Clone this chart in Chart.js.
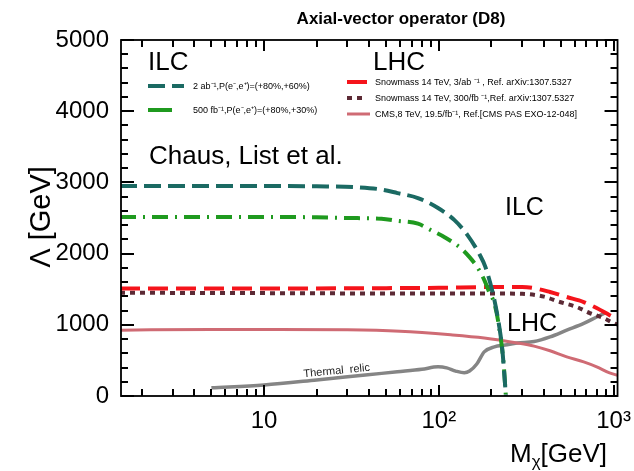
<!DOCTYPE html>
<html>
<head>
<meta charset="utf-8">
<script src="https://cdn.jsdelivr.net/npm/chart.js@4.4.1/dist/chart.umd.min.js"></script>
<style>
  html, body { margin: 0; padding: 0; background: #fff; }
  #wrap { width: 634px; height: 471px; }
</style>
</head>
<body>
<div id="wrap"><canvas id="chart"></canvas></div>
<script>
const FONT = "'Liberation Sans', Arial, Helvetica, sans-serif";

// M_chi [GeV] vs Lambda [GeV]
const ilc2abMass   = [1.5, 3, 6, 10, 20, 35, 47, 58, 76, 99, 123, 146, 171, 185, 208, 222, 231, 238, 242];
const ilc2abLambda = [2950, 2950, 2950, 2950, 2945, 2930, 2900, 2850, 2780, 2640, 2470, 2260, 1990, 1810, 1350, 970, 650, 250, 0];

const ilc500Mass   = [1.5, 5, 10, 20, 30, 47, 58, 76, 90, 108, 133, 150, 167, 182, 195, 208, 222, 235, 242];
const ilc500Lambda = [2515, 2515, 2515, 2510, 2500, 2490, 2460, 2420, 2330, 2230, 2080, 1950, 1800, 1630, 1450, 1300, 950, 450, 0];

const lhc3abMass   = [1.5, 10, 50, 100, 200, 300, 350, 433, 540, 675, 800, 950, 1060];
const lhc3abLambda = [1510, 1510, 1515, 1520, 1530, 1530, 1515, 1460, 1390, 1320, 1235, 1135, 1075];

const lhc300Mass   = [1.5, 10, 50, 100, 200, 300, 400, 493, 616, 731, 877, 1000, 1060];
const lhc300Lambda = [1450, 1445, 1440, 1440, 1440, 1435, 1395, 1320, 1250, 1165, 1095, 1025, 1000];

const cms8Mass     = [1.5, 5, 10, 30, 60, 117, 182, 281, 351, 433, 540, 675, 801, 949, 1060];
const cms8Lambda   = [925, 935, 935, 930, 910, 860, 815, 745, 700, 635, 550, 480, 410, 325, 290];

const relicMass    = [5, 10, 20, 38, 58, 80, 99, 111, 125, 140, 150, 165, 182, 208, 240, 281, 351, 433, 540, 675, 801, 900];
const relicLambda  = [115, 155, 225, 295, 340, 375, 410, 395, 350, 325, 350, 450, 620, 690, 715, 745, 765, 830, 925, 1020, 1110, 1170];

const seriesLabels = [
  '2 ab\u207B\u00B9,P(e\u207B,e\u207A)=(+80%,+60%)',
  '500 fb\u207B\u00B9,P(e\u207B,e\u207A)=(+80%,+30%)',
  'Snowmass 14 TeV, 3/ab \u207B\u00B9 , Ref. arXiv:1307.5327',
  'Snowmass 14 TeV, 300/fb \u207B\u00B9,Ref. arXiv:1307.5327',
  'CMS,8 TeV, 19.5/fb\u207B\u00B9, Ref.[CMS PAS EXO-12-048]',
  'Thermal  relic'
];

const xMin = 1.52, xMax = 1054;
const yMin = 0, yMax = 5000;
const xTickValues = [10, 100, 1000];
const xTickLabels = ['10', '10\u00B2', '10\u00B3'];
const xMinorTicks = [2, 3, 4, 5, 6, 7, 8, 9, 20, 30, 40, 50, 60, 70, 80, 90, 200, 300, 400, 500, 600, 700, 800, 900];

function toPoints(xs, ys) {
  return xs.map((v, i) => ({ x: v, y: ys[i] }));
}

const styles = [
  { color: '#1b6a63', width: 4,   dash: [17, 7] },
  { color: '#1f9a1f', width: 4,   dash: [16, 7, 2, 7] },
  { color: '#f5141b', width: 4,   dash: [20, 8] },
  { color: '#5c2a35', width: 4,   dash: [5, 5] },
  { color: '#cf6b74', width: 3,   dash: [] },
  { color: '#858585', width: 3.5, dash: [] }
];

const seriesData = [
  toPoints(ilc2abMass, ilc2abLambda),
  toPoints(ilc500Mass, ilc500Lambda),
  toPoints(lhc3abMass, lhc3abLambda),
  toPoints(lhc300Mass, lhc300Lambda),
  toPoints(cms8Mass, cms8Lambda),
  toPoints(relicMass, relicLambda)
];

// frame, inward ticks, titles, annotations and legend
const decorations = {
  id: 'decorations',
  afterDraw(chart) {
    const ctx = chart.ctx;
    const a = chart.chartArea;
    const L = a.left, R = a.right, T = a.top, B = a.bottom;
    const lx = Math.log(xMin), lw = Math.log(xMax) - lx;
    const xPix = v => L + (Math.log(v) - lx) / lw * (R - L);
    const yPix = v => B - (v - yMin) / (yMax - yMin) * (B - T);

    ctx.save();
    ctx.setLineDash([]);
    ctx.strokeStyle = '#000';
    ctx.lineWidth = 1.8;
    ctx.strokeRect(L, T, R - L, B - T);

    // inward ticks on all four sides
    ctx.fillStyle = '#000';
    const tick = (v, len) => {
      const px = Math.round(xPix(v));
      ctx.fillRect(px - 1, B - len, 2, len);
      ctx.fillRect(px - 1, T, 2, len);
    };
    xTickValues.forEach(v => tick(v, 11));
    xMinorTicks.forEach(v => tick(v, 7));
    for (let v = yMin; v <= yMax; v += 200) {
      const py = Math.round(yPix(v));
      const len = v % 1000 === 0 ? 13 : 7;
      ctx.fillRect(L, py - 1, len, 2);
      ctx.fillRect(R - len, py - 1, len, 2);
    }

    ctx.textBaseline = 'alphabetic';

    // title
    ctx.font = 'bold 17px ' + FONT;
    ctx.textAlign = 'center';
    ctx.fillText('Axial-vector operator (D8)', 401, 24);

    // y title
    ctx.save();
    ctx.translate(50, 217);
    ctx.rotate(-Math.PI / 2);
    ctx.font = '29px ' + FONT;
    ctx.fillText('\u039B [GeV]', 0, 0);
    ctx.restore();

    // x title
    ctx.textAlign = 'left';
    ctx.font = '26px ' + FONT;
    let tx = 510;
    ctx.fillText('M', tx, 462);
    tx += ctx.measureText('M').width;
    ctx.font = '17px ' + FONT;
    ctx.fillText('\u03C7', tx, 467);
    tx += ctx.measureText('\u03C7').width;
    ctx.font = '26px ' + FONT;
    ctx.fillText('[GeV]', tx, 462);

    // annotations
    ctx.font = '26px ' + FONT;
    ctx.fillText('ILC', 148, 70);
    ctx.fillText('LHC', 373, 70);
    ctx.fillText('Chaus, List et al.', 149, 164);
    ctx.font = '25px ' + FONT;
    ctx.fillText('ILC', 505, 215);
    ctx.fillText('LHC', 507, 331);

    ctx.save();
    ctx.translate(337, 374);
    ctx.rotate(-0.095);
    ctx.font = '11px ' + FONT;
    ctx.fillStyle = '#222';
    ctx.textAlign = 'center';
    ctx.fillText(seriesLabels[5], 0, 0);
    ctx.restore();

    // legend
    const entries = [
      { i: 0, x0: 148, x1: 184, y: 86, tx: 193 },
      { i: 1, x0: 148, x1: 172, y: 110, tx: 193 },
      { i: 2, x0: 347, x1: 370, y: 82, tx: 375 },
      { i: 3, x0: 347, x1: 362, y: 98, tx: 375 },
      { i: 4, x0: 347, x1: 370, y: 114, tx: 375 }
    ];
    ctx.font = '9px ' + FONT;
    ctx.textBaseline = 'middle';
    ctx.textAlign = 'left';
    entries.forEach(e => {
      const s = styles[e.i];
      ctx.strokeStyle = s.color;
      ctx.lineWidth = s.width;
      ctx.setLineDash(e.i === 1 ? [] : s.dash);
      ctx.beginPath();
      ctx.moveTo(e.x0, e.y);
      ctx.lineTo(e.x1, e.y);
      ctx.stroke();
      ctx.fillStyle = '#000';
      ctx.fillText(seriesLabels[e.i], e.tx, e.y + 1);
    });
    ctx.restore();
  }
};

new Chart(document.getElementById('chart'), {
  type: 'line',
  data: {
    datasets: seriesData.map((d, i) => ({
      label: seriesLabels[i],
      data: d,
      borderColor: styles[i].color,
      borderWidth: styles[i].width,
      borderDash: styles[i].dash,
      borderCapStyle: 'butt',
      pointRadius: 0,
      fill: false,
      cubicInterpolationMode: 'monotone'
    }))
  },
  options: {
    responsive: true,
    maintainAspectRatio: false,
    animation: false,
    layout: { padding: { top: 40, right: 13, bottom: 0, left: 0 } },
    plugins: {
      legend: { display: false },
      tooltip: { enabled: false }
    },
    scales: {
      x: {
        type: 'logarithmic',
        min: xMin,
        max: xMax,
        grid: { display: false },
        border: { display: false },
        afterBuildTicks: scale => { scale.ticks = xTickValues.map(v => ({ value: v })); },
        afterFit: scale => { scale.height = 75; },
        ticks: {
          autoSkip: false,
          maxRotation: 0,
          padding: 3,
          color: '#000',
          font: { family: FONT, size: 24 },
          callback: v => {
            const i = xTickValues.indexOf(v);
            return i >= 0 ? xTickLabels[i] : '';
          }
        }
      },
      y: {
        type: 'linear',
        min: yMin,
        max: yMax,
        grid: { display: false },
        border: { display: false },
        afterFit: scale => { scale.width = 121; },
        ticks: {
          stepSize: 1000,
          padding: 4,
          color: '#000',
          font: { family: FONT, size: 24 },
          callback: v => String(v)
        }
      }
    }
  },
  plugins: [decorations]
});
</script>
</body>
</html>
